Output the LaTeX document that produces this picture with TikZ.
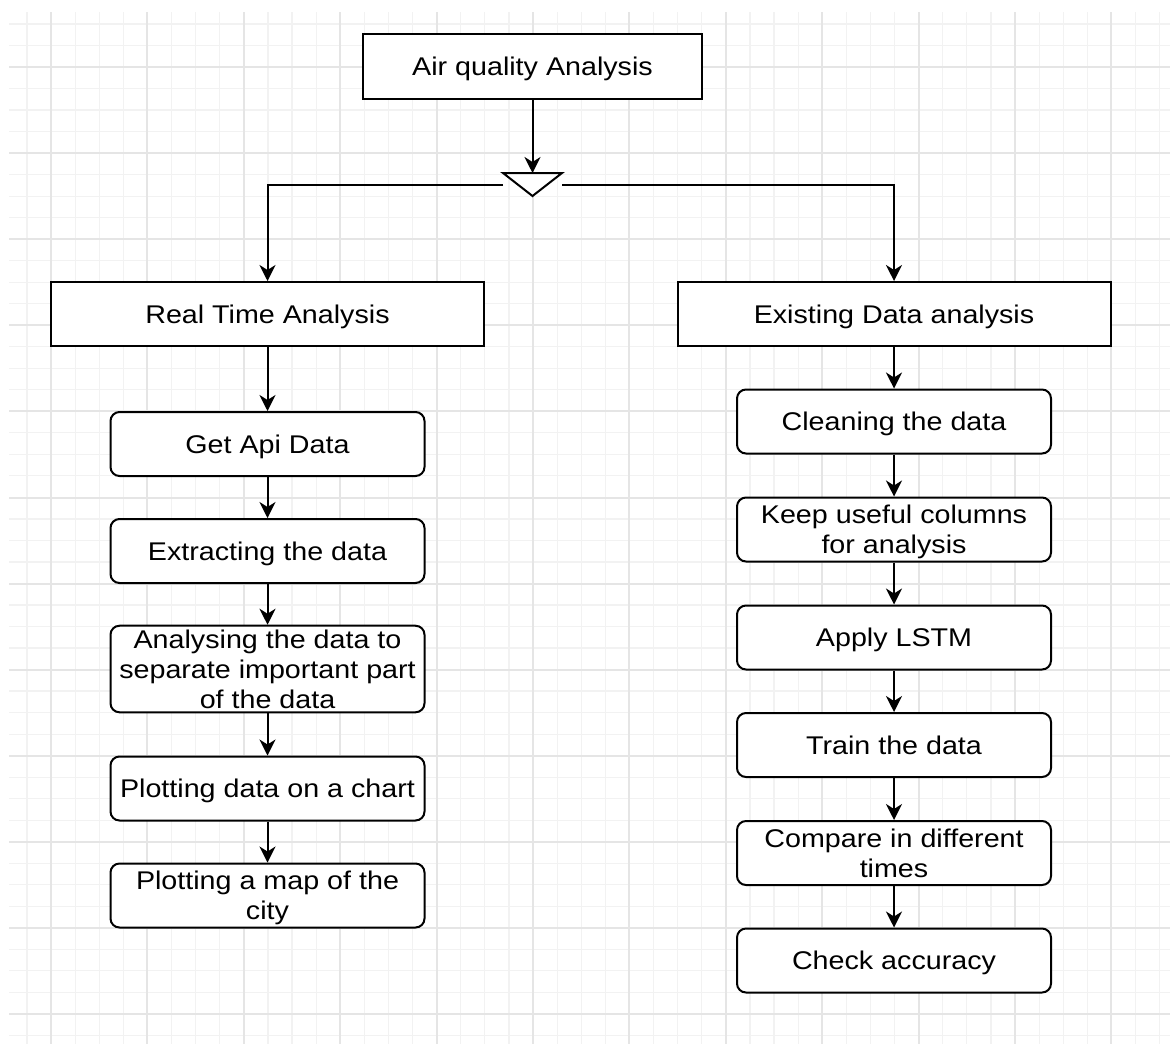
\documentclass[tikz,border=0pt]{standalone}
\usepackage{fontspec}
\setmainfont{Liberation Sans}[FakeStretch=1.12]
\usetikzlibrary{arrows.meta}

\begin{document}
\begin{tikzpicture}
	[
		x=0.5pt, y=-0.5pt,
		box/.style = {rectangle, align=center, draw=black, line width=1pt, fill=white, inner sep=2pt, text depth=0pt, font=\fontsize{12.8}{15}\selectfont},
		head/.style = {box, minimum width=169.5pt, minimum height=32.5pt},
		branch/.style = {box, minimum width=216.5pt, minimum height=32pt},
		stepbox/.style = {box, rounded corners=4.5pt, minimum width=157pt, minimum height=32pt},
		merger/.style = {rectangle, inner sep=0pt, outer sep=0pt, minimum width=29.5pt, minimum height=11.5pt},
		flow/.style = {line width=1pt, -{Stealth[length=8pt, width=8pt, inset=2.5pt]}},
		minor/.style = {draw=black!5, line width=0.6pt},
		major/.style = {draw=black!10, line width=1pt},
	]

	\useasboundingbox (0,0) rectangle (1170,1044);

	% background grid
	\foreach \k in {-1,...,46}
	\draw[minor] ({51+24.1*\k},12) -- ({51+24.1*\k},1044);
	\foreach \k in {-2,...,45}
	\draw[minor] (9,{67+21.52*\k}) -- (1170,{67+21.52*\k});
	\foreach \k in {0,...,11}
	{
		\draw[major] ({51+96.4*\k},12) -- ({51+96.4*\k},1044);
		\draw[major] (9,{67+86.1*\k}) -- (1170,{67+86.1*\k});
	}

	% top and split
	\node[head]     (title)    at ( 532.5,  66.5 ) {Air quality Analysis};
	\node[merger]   (merge)    at ( 532.5, 184.5 ) {};
	\node[branch]   (rta)      at ( 267.5, 314.0 ) {Real Time Analysis};
	\node[branch]   (eda)      at ( 894.0, 314.0 ) {Existing Data analysis};

	% real time steps
	\node[stepbox]  (api)      at ( 267.5, 444.0 ) {Get Api Data};
	\node[stepbox]  (extract)  at ( 267.5, 551.0 ) {Extracting the data};
	\node[stepbox, minimum height=43pt]
	                (analyse)  at ( 267.5, 669.0 ) {Analysing the data to\\separate important part\\of the data};
	\node[stepbox]  (chart)    at ( 267.5, 788.5 ) {Plotting data on a chart};
	\node[stepbox]  (map)      at ( 267.5, 895.5 ) {Plotting a map of the\\city};

	% existing data steps
	\node[stepbox]  (clean)    at ( 894.0, 421.5 ) {Cleaning the data};
	\node[stepbox]  (useful)   at ( 894.0, 529.5 ) {Keep useful columns\\for analysis};
	\node[stepbox]  (lstm)     at ( 894.0, 637.5 ) {Apply LSTM};
	\node[stepbox]  (train)    at ( 894.0, 745.0 ) {Train the data};
	\node[stepbox]  (compare)  at ( 894.0, 853.0 ) {Compare in different\\times};
	\node[stepbox]  (accuracy) at ( 894.0, 960.5 ) {Check accuracy};

	\foreach \from/\to in {title/merge,rta/api,api/extract,extract/analyse,analyse/chart,chart/map,eda/clean,clean/useful,useful/lstm,lstm/train,train/compare,compare/accuracy}
	\draw[flow] (\from) -- (\to);

	\draw[flow] (merge.west) -| (rta);
	\draw[flow] (merge.east) -| (eda);
	\draw[line width=1pt, fill=white] (merge.north west) -- (merge.north east) -- (merge.south) -- cycle;

\end{tikzpicture}
\end{document}
